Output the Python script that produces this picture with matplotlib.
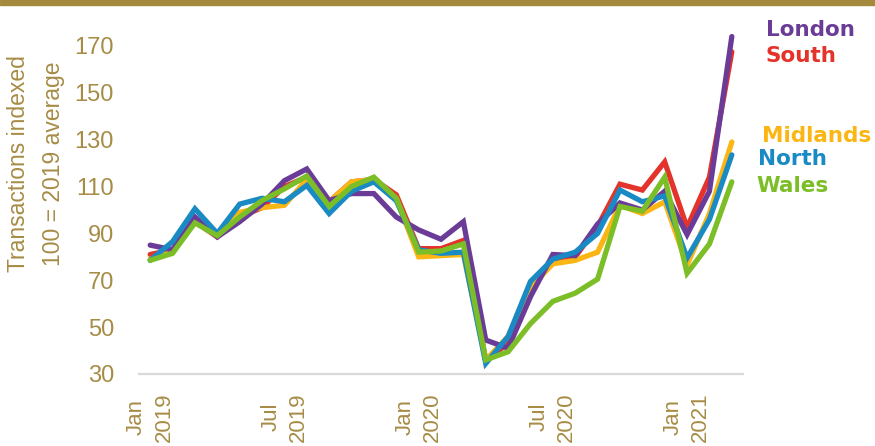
import numpy as np
import matplotlib
matplotlib.use("Agg")
import matplotlib.pyplot as plt
from matplotlib.patches import Rectangle

# monthly index, Jan 2019 .. Mar 2021 (100 = 2019 average)
months = ["Jan\n2019", "", "", "", "", "", "Jul\n2019", "", "", "", "", "",
          "Jan\n2020", "", "", "", "", "", "Jul\n2020", "", "", "", "", "",
          "Jan\n2021", "", ""]

london = [85, 83, 97, 88.5, 95, 102.5, 112.5, 117.5, 104, 107, 107, 97, 91.5, 87.5,
          95, 44.5, 41, 63, 81, 80.5, 94, 103, 100, 108, 89.5, 108, 174]
south = [81, 83, 95, 88.5, 97, 101, 110, 114, 103.5, 112, 113, 106.5, 83.5, 83.5,
         87, 36, 43, 67, 79, 80, 93, 111, 108.5, 120.5, 92.5, 114, 167.5]
midlands = [79, 82, 95, 89, 99, 101, 102, 113, 103.5, 112, 113, 105, 80, 80.5,
            81, 36, 46, 67, 77, 78.5, 82, 102, 98.5, 103.5, 76.5, 98.5, 129]
north = [78.5, 86.5, 100.5, 90, 102.5, 105, 103.5, 110.5, 98.5, 108, 112, 104, 83, 81.5,
         82, 34.5, 46, 69.5, 79, 82, 90, 108.5, 103.5, 106, 79.5, 96, 123.5]
wales = [78.5, 81.5, 94.5, 89, 97, 104, 109, 114.5, 101.5, 110, 114, 105, 82, 82.5,
         85.5, 36, 39.5, 51.5, 61, 64.5, 70.5, 101.5, 99.5, 114, 73, 85.5, 112]

GOLD = "#A68C45"
series = [
    # name, values, colour, end-label offset (pt)
    ("South", south, "#E4332A", (24.5, -7.2)),
    ("Midlands", midlands, "#FBB614", (21.6, 0)),
    ("London", london, "#6B3C97", (24.5, 0.4)),
    ("North", north, "#1A8AC4", (18.7, -7.2)),
    ("Wales", wales, "#7CBE27", (18, -7.3)),
]

fig = plt.figure(figsize=(8.75, 4.46), dpi=100)
fig.patches.append(Rectangle((0, 1 - 5 / 446), 1, 5 / 446, transform=fig.transFigure,
                             color="#A38A3D", zorder=0))

ax = fig.add_axes([139 / 875, 1 - 374 / 446, 604 / 875, (374 - 22.5) / 446])
x = np.arange(len(months))

for name, vals, col, off in series:
    ax.plot(x, vals, color=col, lw=3.8, solid_capstyle="round", solid_joinstyle="miter")
    ax.annotate(name, xy=(x[-1], vals[-1]), xytext=off, textcoords="offset points",
                ha="left", va="baseline", color=col, fontsize=15.5, fontweight="bold",
                family="DejaVu Sans", annotation_clip=False)

ax.set_xlim(-0.5, len(months) - 0.5)
ax.set_ylim(30, 180)
ax.set_yticks(range(30, 171, 20))
ax.set_xticks(x[::6])
ax.set_xticklabels(months[::6], rotation=90, multialignment="center", linespacing=1.4)

for s in ["top", "right", "left"]:
    ax.spines[s].set_visible(False)
ax.spines["bottom"].set_color("#D9D9D9")
ax.spines["bottom"].set_linewidth(1.6)

ax.tick_params(axis="y", length=0, pad=18, labelsize=17, labelcolor=GOLD)
ax.tick_params(axis="x", length=0, pad=13, labelsize=16, labelcolor=GOLD)
for lab in ax.get_xticklabels() + ax.get_yticklabels():
    lab.set_family("Liberation Sans")

fig.text(36 / 875, 1 - 164 / 446, "Transactions indexed\n100 = 2019 average",
         rotation=90, ha="center", va="center", multialignment="center",
         linespacing=1.7, fontsize=16.5, color=GOLD, family="Liberation Sans")

fig.savefig("out.png", dpi=100, facecolor="white")
